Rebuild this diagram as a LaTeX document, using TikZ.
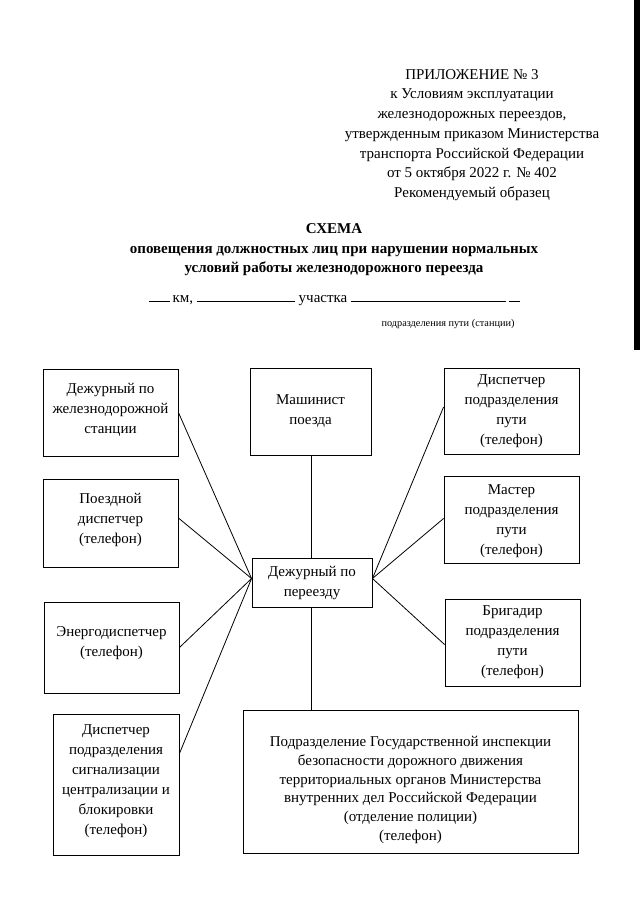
\documentclass[tikz,border=0pt]{standalone}
\usepackage{fontspec}
\setmainfont{Liberation Serif}
\usetikzlibrary{calc}
\begin{document}
\begin{tikzpicture}[x=1pt,y=-1pt,
  box/.style={draw,line width=0.9pt,inner sep=0pt,align=center,font=\fontsize{15}{20}\selectfont},
  txt/.style={inner sep=0pt,align=center,font=\fontsize{15}{20}\selectfont},
  link/.style={line width=0.8pt}]
\useasboundingbox[fill=white] (0,0) rectangle (640,905);
\fill[black] (634,0) rectangle (640,350);
% header
\node[align=center,font=\fontsize{15}{19.7}\selectfont] (hdr) at (472,135)
 {ПРИЛОЖЕНИЕ № 3\\к Условиям эксплуатации\\железнодорожных переездов,\\утвержденным приказом Министерства\\транспорта Российской Федерации\\от 5 октября 2022 г. № 402\\Рекомендуемый образец};
\node[font=\fontsize{15}{19}\bfseries\selectfont] (ttl) at (334,229) {СХЕМА};
\node[align=center,font=\fontsize{15}{19}\bfseries\selectfont] (sub) at (334,261)
 {оповещения должностных лиц при нарушении нормальных\\условий работы железнодорожного переезда};
\node[font=\fontsize{15}{19}\selectfont,anchor=base west,inner sep=0pt] (km) at (149,302)
 {\rule{21pt}{0.6pt}\,км, \rule{98pt}{0.6pt} участка \rule{155pt}{0.6pt}\,\rule{11pt}{0.6pt}};
\node[font=\fontsize{10.3}{13}\selectfont] (pdr) at (448,324) {подразделения пути (станции)};
% boxes
\node[box,minimum width=135pt,minimum height=87pt] (A) at (110.5,412.5) {};
\node[txt] (At) at (110.5,409.5) {Дежурный по\\железнодорожной\\станции};
\node[box,minimum width=135pt,minimum height=88pt] (B) at (110.5,523) {};
\node[txt] (Bt) at (110.5,519.5) {Поездной\\диспетчер\\(телефон)};
\node[box,minimum width=121pt,minimum height=87pt] (Mn) at (310.5,411.5) {Машинист\\поезда};
\node[box,minimum width=135pt,minimum height=86pt] (D) at (511.5,411) {Диспетчер\\подразделения\\пути\\(телефон)};
\node[box,minimum width=135pt,minimum height=87pt] (Ms) at (511.5,519.5) {};
\node[txt] (Mst) at (511.5,521.5) {Мастер\\подразделения\\пути\\(телефон)};
\node[box,minimum width=120pt,minimum height=49pt] (C) at (312,582.5) {Дежурный по\\переезду};
\node[box,minimum width=135pt,minimum height=91pt] (E) at (111.5,647.5) {};
\node[txt] (Et) at (111.5,643.5) {Энергодиспетчер\\(телефон)};
\node[box,minimum width=135pt,minimum height=87pt] (Br) at (512.5,642.5) {Бригадир\\подразделения\\пути\\(телефон)};
\node[box,minimum width=126pt,minimum height=141pt] (S) at (116,784.5) {};
\node[txt] (St) at (116,781.5) {Диспетчер\\подразделения\\сигнализации\\централизации и\\блокировки\\(телефон)};
\node[box,minimum width=335pt,minimum height=143pt] (P) at (410.5,781.5) {};
\node[txt,font=\fontsize{15}{18.7}\selectfont] (Pt) at (410.5,790)
 {Подразделение Государственной инспекции\\безопасности дорожного движения\\территориальных органов Министерства\\внутренних дел Российской Федерации\\(отделение полиции)\\(телефон)};
% connectors
\coordinate (cl) at ($(C.west)+(0pt,4pt)$);
\coordinate (cr) at ($(C.east)+(0pt,4pt)$);
\coordinate (ma) at ($(Mn.south)+(0.5pt,0)$);
\draw[link] (A.east) -- (cl);
\draw[link] ($(B.east)+(0pt,5pt)$) -- (cl);
\draw[link] (E.east) -- (cl);
\draw[link] ($(S.east)+(0pt,31pt)$) -- (cl);
\draw[link] ($(D.west)+(0pt,4pt)$) -- (cr);
\draw[link] ($(Ms.west)+(0pt,1pt)$) -- (cr);
\draw[link] ($(Br.west)+(0pt,-2pt)$) -- (cr);
\draw[link] (ma) -- (ma |- C.north);
\draw[link] (ma |- C.south) -- (ma |- P.north);
\end{tikzpicture}
\end{document}
